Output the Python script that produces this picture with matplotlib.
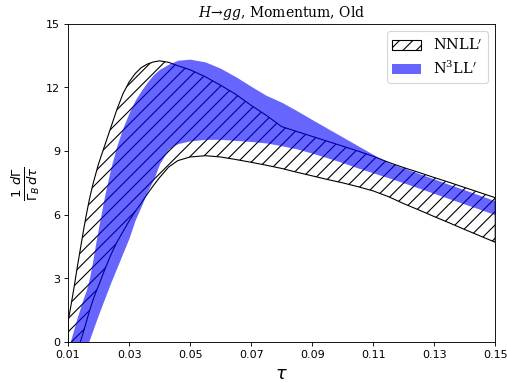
import numpy as np
import matplotlib.pyplot as plt
from matplotlib.font_manager import FontProperties

# values
tau = [0.010, 0.011, 0.012, 0.013, 0.014, 0.015, 0.016, 0.017, 0.018, 0.019,
       0.020, 0.022, 0.024, 0.026, 0.028, 0.030, 0.032, 0.034, 0.036, 0.038,
       0.040, 0.043, 0.046, 0.050, 0.055, 0.060, 0.065, 0.070, 0.075, 0.080,
       0.085, 0.090, 0.095, 0.100, 0.105, 0.110, 0.115, 0.120, 0.125, 0.130,
       0.135, 0.140, 0.145, 0.150]

nnll_hi = [0.95, 1.75, 2.6, 3.5, 4.35, 5.2, 6.0, 6.72, 7.35, 7.88,
           8.4, 9.25, 10.1, 10.95, 11.7, 12.25, 12.65, 12.93, 13.1, 13.2,
           13.25, 13.18, 13.02, 12.83, 12.5, 12.1, 11.67, 11.15, 10.68, 10.15,
           9.92, 9.69, 9.46, 9.23, 9.0, 8.75, 8.47, 8.22, 7.99, 7.75,
           7.52, 7.28, 7.04, 6.8]

nnll_lo = [-2.0, -1.5, -1.0, -0.5, 0.0, 0.45, 0.95, 1.45, 1.9, 2.3,
           2.65, 3.4, 4.1, 4.7, 5.2, 5.7, 6.15, 6.55, 6.98, 7.38,
           7.75, 8.25, 8.55, 8.72, 8.78, 8.72, 8.6, 8.47, 8.33, 8.18,
           8.0, 7.83, 7.66, 7.5, 7.32, 7.12, 6.85, 6.52, 6.22, 5.91,
           5.61, 5.3, 5.0, 4.7]

n3ll_hi = [-0.4, 0.15, 0.65, 1.15, 1.6, 2.05, 2.45, 3.0, 3.75, 4.6,
           5.4, 6.9, 8.2, 9.25, 10.1, 10.8, 11.4, 11.85, 12.25, 12.6,
           12.85, 13.1, 13.28, 13.33, 13.2, 12.9, 12.5, 12.05, 11.62, 11.3,
           10.9, 10.48, 10.07, 9.66, 9.25, 8.84, 8.45, 8.2, 7.94, 7.68,
           7.42, 7.17, 6.91, 6.65]

n3ll_lo = [-2.6, -2.2, -1.8, -1.4, -1.0, -0.65, -0.3, 0.1, 0.5, 0.9,
           1.3, 2.05, 2.8, 3.5, 4.2, 4.9, 5.75, 6.4, 7.1, 7.65,
           8.4, 9.1, 9.35, 9.48, 9.55, 9.55, 9.5, 9.45, 9.38, 9.25,
           9.1, 8.9, 8.68, 8.45, 8.2, 7.97, 7.74, 7.5, 7.25, 7.0,
           6.75, 6.5, 6.25, 6.0]

xticks = [0.01, 0.03, 0.05, 0.07, 0.09, 0.11, 0.13, 0.15]
yticks = [0, 3, 6, 9, 12, 15]

fig = plt.figure(figsize=(507.3 / 80, 383.3 / 80), dpi=80)
ax = fig.add_axes([0.1341, 0.1070, 0.8422, 0.8303])

ax.fill_between(tau, nnll_lo, nnll_hi, facecolor='none', edgecolor='black',
                hatch='//', linewidth=1, label=r"NNLL$'$")
ax.fill_between(tau, n3ll_lo, n3ll_hi, color='blue', alpha=0.6, linewidth=0,
                label=r"N$^3$LL$'$")

ax.set_xlim(0.01, 0.15)
ax.set_ylim(0, 15)
ax.set_xticks(xticks)
ax.set_xticklabels(['%.2f' % t for t in xticks])
ax.set_yticks(yticks)

ax.set_xlabel(r'$\tau$', fontsize=16)
ax.set_ylabel(r'$\frac{1}{\Gamma_B}\frac{d\Gamma}{d\tau}$', fontsize=17)
ax.set_title(r'$H\!\to\! gg$, Momentum, Old', family='serif',
             math_fontfamily='dejavuserif', fontsize=12.5)

ax.legend(loc='upper right',
          prop=FontProperties(family='serif', size=13, math_fontfamily='dejavuserif'))

fig.savefig('out.png', dpi=80)
